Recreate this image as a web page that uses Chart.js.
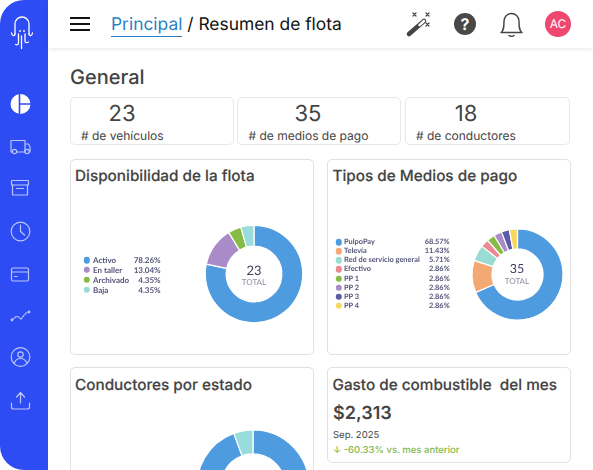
<!DOCTYPE html>
<html lang="es"><head><meta charset="utf-8">
<script src="https://cdn.jsdelivr.net/npm/chart.js@4"></script>
<style>
html,body{margin:0;padding:0;background:#fff;width:593px;height:470px;overflow:hidden;font-family:Inter,sans-serif;color:#444;text-rendering:geometricPrecision}
#page{position:absolute;left:0;top:0;width:593px;height:470px;overflow:hidden;background:#fff}
.abs{position:absolute;white-space:nowrap;z-index:2}
#side{position:absolute;left:0;top:0;width:48px;height:470px;background:#2e4cf3;border-radius:24px 0 0 24px}
#side svg{position:absolute;left:0;top:0}
#head{position:absolute;left:48px;top:0;width:545px;height:48px;background:#fff;box-shadow:0 1px 4px rgba(0,0,0,.10)}
.card{position:absolute;box-sizing:border-box;background:#fff;border:1px solid #dfe1e3;border-radius:5px}
.h3{position:absolute;font-size:15.300px;font-weight:500;color:#444;white-space:nowrap;-webkit-text-stroke:.15px #444}
canvas{position:absolute}
.lg,.pct{position:absolute;font-family:Lato,sans-serif;font-weight:700;color:#55557a;white-space:nowrap;line-height:10px}
.lg{transform:translateY(-5px)}
.pct{transform:translate(-100%,-5px)}
.dot{position:absolute;width:6.400px;height:6.400px;border-radius:50%;transform:translate(-50%,-50%)}
.ct{position:absolute;text-align:center;font-family:Lato,sans-serif;transform:translateX(-50%);white-space:nowrap}
</style></head><body><div id="page">
<div id="side"><svg width="48" height="470" fill="none" stroke="#fff" stroke-linecap="round" stroke-linejoin="round">
<g stroke-width="1.300"><path d="M15 34V24a7 7 0 0 1 14 0v10"/><path d="M11.500 33c.5 3 3 3.500 3.500 1M32.500 33c-.5 3 -3 3.500 -3.500 1M18.500 34v9c0 2 -2 2 -3 1.500M21.500 36v12.500M25 34v7c0 2 2 2 3.500 1"/></g>
<circle cx="20" cy="31" r=".9" fill="#fff" stroke="none"/><circle cx="24" cy="31" r=".9" fill="#fff" stroke="none"/>
<circle cx="20.500" cy="104" r="10" fill="#fff" stroke="none"/><path d="M19.500 93v22M19.500 104h12" stroke="#2e4cf3" stroke-width="1.600"/>
<g stroke="#b9c5fb" stroke-width="1.200">
<path d="M11.500 152h-.5v-11.500h14v11.500h-8M25 144h3.500l1.500 3v5h-.5M25 152h.5"/><circle cx="14.500" cy="151.500" r="2.200"/><circle cx="27" cy="151.500" r="2.200"/>
<rect x="11.500" y="180.500" width="17" height="4.500" rx=".7"/><path d="M12.500 185v10h15v-10M16.500 188.500h7"/>
<circle cx="20.500" cy="231.500" r="9.300"/><path d="M20.500 225v6.500l4 3.500"/>
<rect x="11.500" y="268" width="17" height="13" rx="1.200"/><path d="M11.500 272h17M14.500 276.500h2.500"/>
<path d="M12 320l5 -4 4 3 5 -6 3 -1" stroke-dasharray="2 1.500"/><circle cx="12" cy="320" r=".8"/><circle cx="29" cy="312" r=".8"/>
<circle cx="20.500" cy="357" r="9.300"/><circle cx="20.500" cy="354.500" r="2.700"/><path d="M14.500 363c1 -3.500 3 -4.500 6 -4.500s5 1 6 4.500"/>
<path d="M11.500 403v4c0 1.500 .7 2 2 2h14c1.300 0 2 -.5 2 -2v-4M20.500 403v-10M16.500 397l4 -4.500 4 4.500"/></g></svg></div>
<div id="head"></div>
<div class="abs" style="left:70px;top:17px;width:20px;height:2.200px;background:#111"></div>
<div class="abs" style="left:70px;top:23px;width:20px;height:2.200px;background:#111"></div>
<div class="abs" style="left:70px;top:28.500px;width:20px;height:2.200px;background:#111"></div>
<div class="abs" style="left:111px;top:13px;font-size:17.400px;line-height:24px;color:#111"><span style="color:#2a7fc4;border-bottom:1px solid #2a7fc4;padding-bottom:1px">Principal</span> / Resumen de flota</div>
<svg class="abs" style="left:405px;top:10px" width="30" height="28" fill="none" stroke="#444" stroke-linecap="round"><path d="M4 24L19 11" stroke-width="4.600"/><path d="M14.500 15.200l4.500 -4.200" stroke="#fff" stroke-width="2.400"/><path d="M8 3l3 3M11 3l-3 3M21 3l3 3M24 3l-3 3M21 13l3 3M24 13l-3 3" stroke-width="1.200"/></svg>
<div class="abs" style="left:454px;top:13px;width:22px;height:22px;border-radius:50%;background:#484848;color:#fff;font-size:16px;font-weight:700;line-height:22px;text-align:center">?</div>
<svg class="abs" style="left:499px;top:11px" width="24" height="26" fill="none" stroke="#444" stroke-width="1.400" stroke-linejoin="round"><path d="M2 21.500c3 -2 3 -6 3 -11.500a7.500 7.500 0 0 1 15 0c0 5.500 0 9.500 3 11.500z"/><path d="M10 24.500c1 1 4 1 5 0" stroke-linecap="round"/></svg>
<div class="abs" style="left:545px;top:10.500px;width:26px;height:26px;border-radius:50%;background:#ee4870;color:#fff;font-size:12px;line-height:26px;text-align:center">AC</div>
<div class="abs" style="left:70px;top:64px;font-size:20px;font-weight:500;line-height:26px;color:#444">General</div>

<div id="stats"></div><div id="cards"></div>
<div class="abs" style="left:333px;top:403px;font-size:18px;font-weight:600;line-height:22px;color:#444">$2,313</div>
<div class="abs" style="left:333px;top:430px;font-size:9.500px;font-weight:400;line-height:12px;color:#444">Sep. 2025</div>
<div class="abs" style="left:333px;top:444px;font-size:9.500px;font-weight:500;line-height:13px;color:#84b84c">↓ -60.33% vs. mes anterior</div>
</div>
<script>
const statValues=[23,35,18];
const statLabels=['# de vehículos','# de medios de pago','# de conductores'];
const cardTitles=['Disponibilidad de la flota','Tipos de Medios de pago','Conductores por estado','Gasto de combustible  del mes'];
const fleetLabels=['Activo','En taller','Archivado','Baja'];
const fleetValues=[18,3,1,1];
const fleetPct=['78.26%','13.04%','4.35%','4.35%'];
const fleetColors=['#4f9be0','#a98bc8','#86bc45','#9adcdb'];
const payLabels=['PulpoPay','Televía','Red de servicio general','Efectivo','PP 1','PP 2','PP 3','PP 4'];
const payValues=[24,4,2,1,1,1,1,1];
const payPct=['68.57%','11.43%','5.71%','2.86%','2.86%','2.86%','2.86%','2.86%'];
const payColors=['#4f9be0','#f4a873','#9adcd4','#ec8a93','#86bc45','#a98bc8','#5c5ba6','#f6d860'];
const driverValues=[17,1];
const driverColors=['#4f9be0','#9adcdb'];

const page=document.getElementById('page');
const esc=s=>String(s).replace(/ /g,'\u00a0');
const statX=[[69.500,233.500],[237,401],[405,569.500]];
const labelX=[81,248.500,416];const numX=[122,308,466];
statValues.forEach((v,i)=>{
 const c=document.createElement('div');c.className='card';
 c.style.cssText=`left:${statX[i][0]}px;top:97px;width:${statX[i][1]-statX[i][0]}px;height:48px;border-color:#e6e7e9`;page.appendChild(c);
 const n=document.createElement('div');n.className='abs';n.textContent=v;
 n.style.cssText=`left:${numX[i]}px;top:100px;transform:translateX(-50%);font-size:22px;line-height:28px;color:#444`;page.appendChild(n);
 const l=document.createElement('div');l.className='abs';l.textContent=statLabels[i];
 l.style.cssText=`left:${labelX[i]}px;top:128px;font-size:12px;line-height:15px;color:#444`;page.appendChild(l);
});
const boxes=[[69.500,158.500,244,196],[327,158.500,243.500,196],[69.500,367,244,130],[327,367,243.500,96]];
boxes.forEach((b,i)=>{
 const c=document.createElement('div');c.className='card';
 c.style.cssText=`left:${b[0]}px;top:${b[1]}px;width:${b[2]}px;height:${b[3]}px`;page.appendChild(c);
 const t=document.createElement('div');t.className='h3';t.textContent=esc(cardTitles[i]);
 t.style.cssText=`left:${b[0]+5.500}px;top:${b[1]+(i>1?8:7)}px;line-height:20px`;page.appendChild(t);
});
function donut(cx,cy,R,r,vals,cols){
 const S=Math.ceil(R*2+8),cv=document.createElement('canvas');
 cv.width=S;cv.height=S;cv.style.cssText=`left:${cx-S/2}px;top:${cy-S/2}px;width:${S}px;height:${S}px`;page.appendChild(cv);
 new Chart(cv,{type:'doughnut',data:{labels:vals.map((_,i)=>i),datasets:[{data:vals,backgroundColor:cols,borderColor:'#fff',borderWidth:1.200}]},
  options:{responsive:false,animation:false,radius:R,cutout:r,plugins:{legend:{display:false},tooltip:{enabled:false}}}});
}
function legend(labels,pct,cols,dotX,textX,pctX,y0,step,fs){
 labels.forEach((t,i)=>{const y=y0+i*step;
  const d=document.createElement('div');d.className='dot';d.style.cssText=`left:${dotX}px;top:${y}px;background:${cols[i]}`;page.appendChild(d);
  const a=document.createElement('div');a.className='lg';a.textContent=t;a.style.cssText=`left:${textX}px;top:${y}px;font-size:${fs}px`;page.appendChild(a);
  const p=document.createElement('div');p.className='pct';p.textContent=pct[i];p.style.cssText=`left:${pctX}px;top:${y}px;font-size:${fs}px`;page.appendChild(p);
 });
}
function center(cx,cy,num,size,ny,ty){
 const n=document.createElement('div');n.className='ct';n.textContent=num;n.style.cssText=`left:${cx}px;top:${cy+ny-8}px;font-size:${size}px;line-height:16px;color:#3f3f66`;page.appendChild(n);
 const t=document.createElement('div');t.className='ct';t.textContent='TOTAL';t.style.cssText=`left:${cx}px;top:${cy+ty-5.500}px;font-size:8px;line-height:11px;color:#8a8a9e`;page.appendChild(t);
}
donut(254,274,48.700,30,fleetValues,fleetColors);
center(254,274,statValues[0],13,-4,8.700);
legend(fleetLabels,fleetPct,fleetColors,86.700,93,160.700,260.300,9.800,8);
donut(517,274,45.500,27.500,payValues,payColors);
center(517,274,statValues[1],12.500,-4.700,7);
legend(payLabels,payPct,payColors,338.700,344,449.700,242.300,9.050,7.400);
donut(253,486,56,34,driverValues,driverColors);
</script></body></html>
